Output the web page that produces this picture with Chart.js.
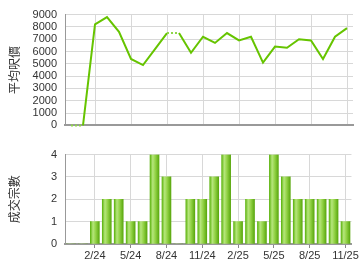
<!DOCTYPE html>
<html>
<head>
<meta charset="utf-8">
<script src="https://cdn.jsdelivr.net/npm/chart.js@4"></script>
<style>
  html, body { margin: 0; padding: 0; background: #fff; }
  .box { position: absolute; left: 0; width: 360px; }
  #top { top: 0; height: 140px; }
  #bottom { top: 140px; height: 130px; }
</style>
</head>
<body>
<div class="box" id="top"><canvas id="price-chart"></canvas></div>
<div class="box" id="bottom"><canvas id="count-chart"></canvas></div>
<script>
const months = ['12/23', '1/24', '2/24', '3/24', '4/24', '5/24', '6/24', '7/24', '8/24', '9/24', '10/24', '11/24',
  '12/24', '1/25', '2/25', '3/25', '4/25', '5/25', '6/25', '7/25', '8/25', '9/25', '10/25', '11/25'];
// average price per sq ft (months without deals repeat the last value, drawn dotted)
const avgPrice = [0, 0, 8200, 8800, 7600, 5400, 4900, 6200, 7500, 7500, 5900, 7200,
  6700, 7500, 6900, 7200, 5100, 6400, 6300, 7000, 6900, 5400, 7200, 7900];
// number of deals
const dealCount = [0, 0, 1, 2, 2, 1, 1, 4, 3, 0, 2, 2,
  3, 4, 1, 2, 1, 4, 3, 2, 2, 2, 2, 1];
const priceTicks = [0, 1000, 2000, 3000, 4000, 5000, 6000, 7000, 8000, 9000];
const countTicks = [0, 1, 2, 3, 4];

const tickFont = { family: 'Liberation Sans, Arial, sans-serif', size: 11 };
const titleFont = { family: 'Noto Sans CJK TC, sans-serif', size: 12 };
const showTick = i => (i + 1) % 3 === 0;

Chart.defaults.animation = false;
Chart.defaults.color = '#333';

const yWidth = scale => { scale.width = 65; };

new Chart(document.getElementById('price-chart'), {
  type: 'line',
  data: {
    labels: months,
    datasets: [{
      data: avgPrice,
      borderColor: '#66c400',
      borderWidth: 2,
      pointRadius: 0,
      tension: 0,
      clip: 4,
      segment: {
        borderDash: ctx => dealCount[ctx.p1DataIndex] === 0 ? [2, 2] : undefined,
        borderColor: ctx => dealCount[ctx.p1DataIndex] === 0 ? '#8fd64a' : undefined,
      },
    }],
  },
  options: {
    responsive: true, maintainAspectRatio: false,
    layout: { padding: { top: 7, right: 7, left: 0, bottom: 0 } },
    plugins: { legend: { display: false }, tooltip: { enabled: false } },
    scales: {
      x: {
        offset: true,
        afterFit: scale => { scale.height = 10; },
        ticks: { display: false, autoSkip: false },
        grid: { offset: false, drawTicks: false, color: ctx => showTick(ctx.index) ? '#d8d8d8' : 'transparent' },
        border: { color: '#999', width: 2 },
      },
      y: {
        min: 0, max: 9000,
        afterFit: yWidth,
        afterBuildTicks: scale => { scale.ticks = priceTicks.map(v => ({ value: v })); },
        ticks: { font: tickFont, padding: 8, autoSkip: false, callback: v => String(v) },
        grid: { drawTicks: false, color: '#d8d8d8' },
        border: { color: '#999' },
        title: { display: true, text: '平均呎價', font: titleFont, padding: { top: 7, bottom: 0 } },
      },
    },
  },
});

new Chart(document.getElementById('count-chart'), {
  type: 'bar',
  data: {
    labels: months,
    datasets: [{
      data: dealCount,
      barThickness: 9,
      borderWidth: 0,
      backgroundColor: ctx => {
        const chart = ctx.chart;
        const sx = chart.scales && chart.scales.x;
        const x = sx ? sx.getPixelForValue(ctx.dataIndex) : NaN;
        if (!isFinite(x)) return '#8fd245';
        const g = chart.ctx.createLinearGradient(x - 4.5, 0, x + 4.5, 0);
        g.addColorStop(0, '#5fb512');
        g.addColorStop(0.3, '#b6e67c');
        g.addColorStop(0.6, '#92d245');
        g.addColorStop(1, '#5aa80f');
        return g;
      },
    }],
  },
  options: {
    responsive: true, maintainAspectRatio: false,
    layout: { padding: { top: 7, right: 7, left: 0, bottom: 0 } },
    plugins: { legend: { display: false }, tooltip: { enabled: false } },
    scales: {
      x: {
        afterFit: scale => { scale.height = 26; },
        ticks: { font: tickFont, autoSkip: false, maxRotation: 0, padding: 1, callback: (v, i) => showTick(i) ? months[i] : '' },
        grid: {
          offset: false, tickLength: 4,
          color: ctx => showTick(ctx.index) ? '#d8d8d8' : 'transparent',
          tickColor: ctx => showTick(ctx.index) ? '#888' : 'transparent',
        },
        border: { color: '#999', width: 2 },
      },
      y: {
        min: 0, max: 4,
        afterFit: yWidth,
        afterBuildTicks: scale => { scale.ticks = countTicks.map(v => ({ value: v })); },
        ticks: { font: tickFont, padding: 8, autoSkip: false },
        grid: { drawTicks: false, color: '#d8d8d8' },
        border: { color: '#999' },
        title: { display: true, text: '成交宗數', font: titleFont, padding: { top: 7, bottom: 0 } },
      },
    },
  },
});
</script>
</body>
</html>
